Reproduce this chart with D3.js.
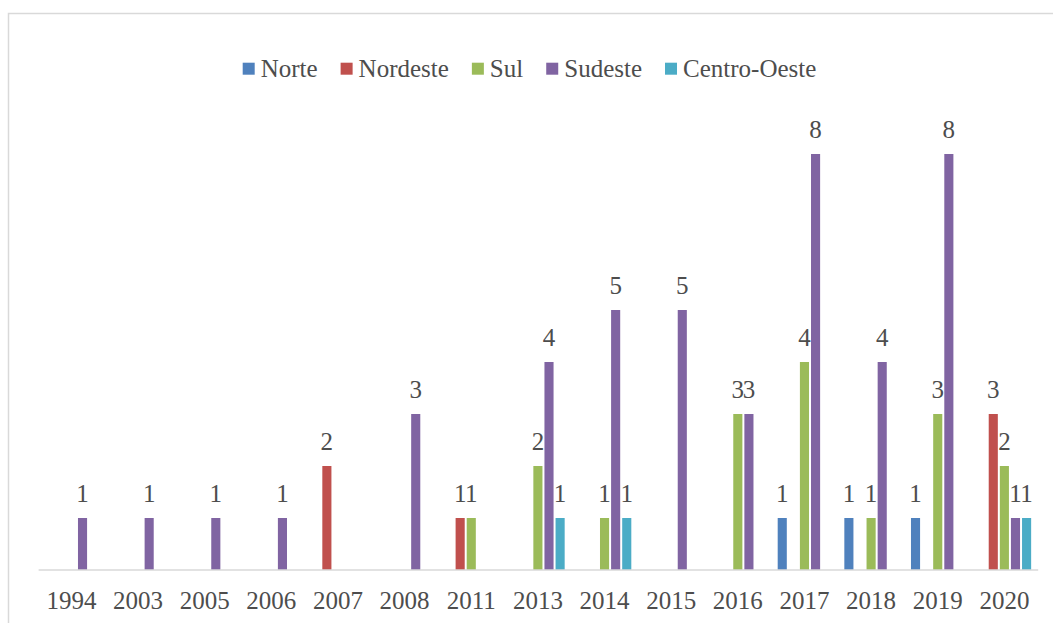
<!DOCTYPE html>
<html>
<head>
<meta charset="utf-8">
<script src="https://cdn.jsdelivr.net/npm/d3@7"></script>
<style>
  body { margin: 0; background: #fff; }
  svg text { font-family: "Liberation Serif", "Times New Roman", serif; fill: #4d4d4d; }
</style>
</head>
<body>
<svg id="chart" width="1054" height="623"></svg>
<script>
// data
var years = ['1994','2003','2005','2006','2007','2008','2011','2013','2014','2015','2016','2017','2018','2019','2020'];
var seriesNames = ['Norte','Nordeste','Sul','Sudeste','Centro-Oeste'];
var seriesColors = ['#4f81bd','#c0504d','#9bbb59','#8064a2','#4bacc6'];
var norte    = [0,0,0,0,0,0,0,0,0,0,0,1,1,1,0];
var nordeste = [0,0,0,0,2,0,1,0,0,0,0,0,0,0,3];
var sul      = [0,0,0,0,0,0,1,2,1,0,3,4,1,3,2];
var sudeste  = [1,1,1,1,0,3,0,4,5,5,3,8,4,8,1];
var centro   = [0,0,0,0,0,0,0,1,1,0,0,0,0,0,1];
var seriesValues = [norte, nordeste, sul, sudeste, centro];

var svg = d3.select('#chart');

// outer frame (only top + left show)
svg.append('path')
    .attr('d', 'M8.5,640 L8.5,13.5 L1053,13.5')
    .attr('fill', 'none').attr('stroke', '#d9d9d9').attr('stroke-width', 1.5);

var x0 = d3.scaleBand().domain(years).range([38.1, 1037.7]).padding(0);
var x1 = d3.scaleBand().domain(seriesNames).range([0, x0.bandwidth()]).paddingInner(0).paddingOuter(0.5);
var y = d3.scaleLinear().domain([0, 9]).range([570, 570 - 9 * 52]);

var rows = [];
seriesNames.forEach(function (s, i) {
    years.forEach(function (yr, j) {
        if (seriesValues[i][j] > 0) rows.push({year: yr, series: s, idx: i, value: seriesValues[i][j]});
    });
});

svg.append('g').selectAll('rect').data(rows).enter().append('rect')
    .attr('x', function (d) { return x0(d.year) + x1(d.series) + 1; })
    .attr('y', function (d) { return y(d.value); })
    .attr('width', x1.bandwidth() - 2)
    .attr('height', function (d) { return y(0) - y(d.value); })
    .attr('fill', function (d) { return seriesColors[d.idx]; });

svg.append('g').selectAll('text').data(rows).enter().append('text')
    .attr('x', function (d) { return x0(d.year) + x1(d.series) + x1.bandwidth() / 2; })
    .attr('y', function (d) { return y(d.value) - 16.5; })
    .attr('text-anchor', 'middle')
    .style('font-size', '25px')
    .text(function (d) { return d.value; });

// category axis
var xAxis = svg.append('g').attr('transform', 'translate(0,569.5)')
    .call(d3.axisBottom(x0).tickSize(0).tickPadding(0));
xAxis.select('.domain').attr('stroke', '#d9d9d9').attr('stroke-width', 1.5);
xAxis.selectAll('text')
    .attr('y', 39).attr('dy', null)
    .style('font-size', '25px')
    .style('font-family', '"Liberation Serif", serif')
    .attr('fill', '#4d4d4d');

// legend, centred
var legend = svg.append('g');
var items = legend.selectAll('g').data(seriesNames).enter().append('g');
items.append('rect').attr('width', 12).attr('height', 12).attr('y', 62.7)
    .attr('fill', function (d, i) { return seriesColors[i]; });
items.append('text').attr('x', 18).attr('y', 76.7).style('font-size', '25px').text(function (d) { return d; });
var pos = 0;
items.each(function () {
    var g = d3.select(this);
    g.attr('transform', 'translate(' + pos + ',0)');
    pos += 18 + g.select('text').node().getComputedTextLength() + 23;
});
var total = pos - 23;
legend.attr('transform', 'translate(' + (529.5 - total / 2) + ',0)');
</script>
</body>
</html>
